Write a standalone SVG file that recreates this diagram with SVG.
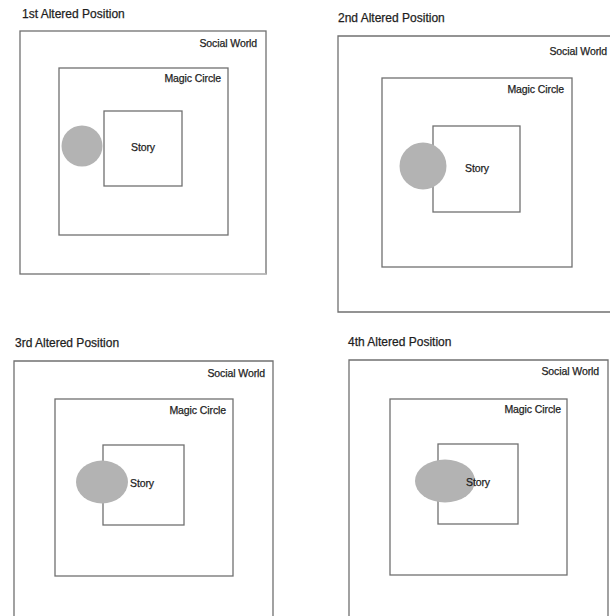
<svg xmlns="http://www.w3.org/2000/svg" width="610" height="616" viewBox="0 0 610 616">
<style>
  .box{fill:none;stroke:#707070;stroke-width:1.3}
  .blob{fill:#b3b3b3}
  .title{font-family:"Liberation Sans",Arial,sans-serif;font-size:12px;fill:#1e1e1e;stroke:#1e1e1e;stroke-width:0.25}
  .lbl{font-family:"Liberation Sans",Arial,sans-serif;font-size:10.5px;fill:#1e1e1e;stroke:#1e1e1e;stroke-width:0.25;letter-spacing:-0.1px}
  .end{text-anchor:end}
  .mid{text-anchor:middle}
</style>
<rect width="610" height="616" fill="#fff"/>

<g id="panel1">
  <text class="title" x="22" y="18">1st Altered Position</text>
  <g id="p1-social"><rect class="box" x="20" y="31" width="246" height="243"/>
    <line x1="150" y1="274" x2="266" y2="274" stroke="#c4c4c4" stroke-width="1.4"/>
    <text class="lbl end" x="257" y="47">Social World</text></g>
  <g id="p1-magic"><rect class="box" x="59" y="68" width="169" height="167"/>
    <text class="lbl end" x="221" y="82">Magic Circle</text></g>
  <g id="p1-story"><rect class="box" x="104" y="111" width="78" height="75"/>
    <text class="lbl mid" x="143" y="151">Story</text></g>
  <g id="p1-player"><circle class="blob" cx="82" cy="146" r="20.5"/></g>
</g>

<g id="panel2">
  <text class="title" x="338" y="22">2nd Altered Position</text>
  <g id="p2-social"><path class="box" d="M612,36 H338 V312 H612"/>
    <text class="lbl end" x="607" y="55">Social World</text></g>
  <g id="p2-magic"><rect class="box" x="382" y="78" width="190" height="189"/>
    <text class="lbl end" x="564" y="93">Magic Circle</text></g>
  <g id="p2-story"><rect class="box" x="433" y="126" width="87" height="86"/>
    <text class="lbl mid" x="477" y="172">Story</text></g>
  <g id="p2-player"><circle class="blob" cx="423" cy="166" r="23.5"/></g>
</g>

<g id="panel3">
  <text class="title" x="15" y="347">3rd Altered Position</text>
  <g id="p3-social"><path class="box" d="M14,620 V361 H273 V620"/>
    <text class="lbl end" x="265" y="377">Social World</text></g>
  <g id="p3-magic"><rect class="box" x="55" y="399" width="178" height="177"/>
    <text class="lbl end" x="226" y="414">Magic Circle</text></g>
  <g id="p3-story"><rect class="box" x="103" y="445" width="81" height="80"/></g>
  <g id="p3-player"><ellipse class="blob" cx="102" cy="482" rx="26" ry="21.5"/></g>
  <text class="lbl" x="130" y="487">Story</text>
</g>

<g id="panel4">
  <text class="title" x="348" y="346">4th Altered Position</text>
  <g id="p4-social"><path class="box" d="M349,620 V360 H608 V620"/>
    <text class="lbl end" x="599" y="375">Social World</text></g>
  <g id="p4-magic"><rect class="box" x="390" y="399" width="177" height="176"/>
    <text class="lbl end" x="561" y="413">Magic Circle</text></g>
  <g id="p4-story"><rect class="box" x="438" y="444" width="80" height="80"/></g>
  <g id="p4-player"><ellipse class="blob" cx="445" cy="481" rx="30" ry="21.5"/></g>
  <text class="lbl" x="466" y="486">Story</text>
</g>
</svg>
